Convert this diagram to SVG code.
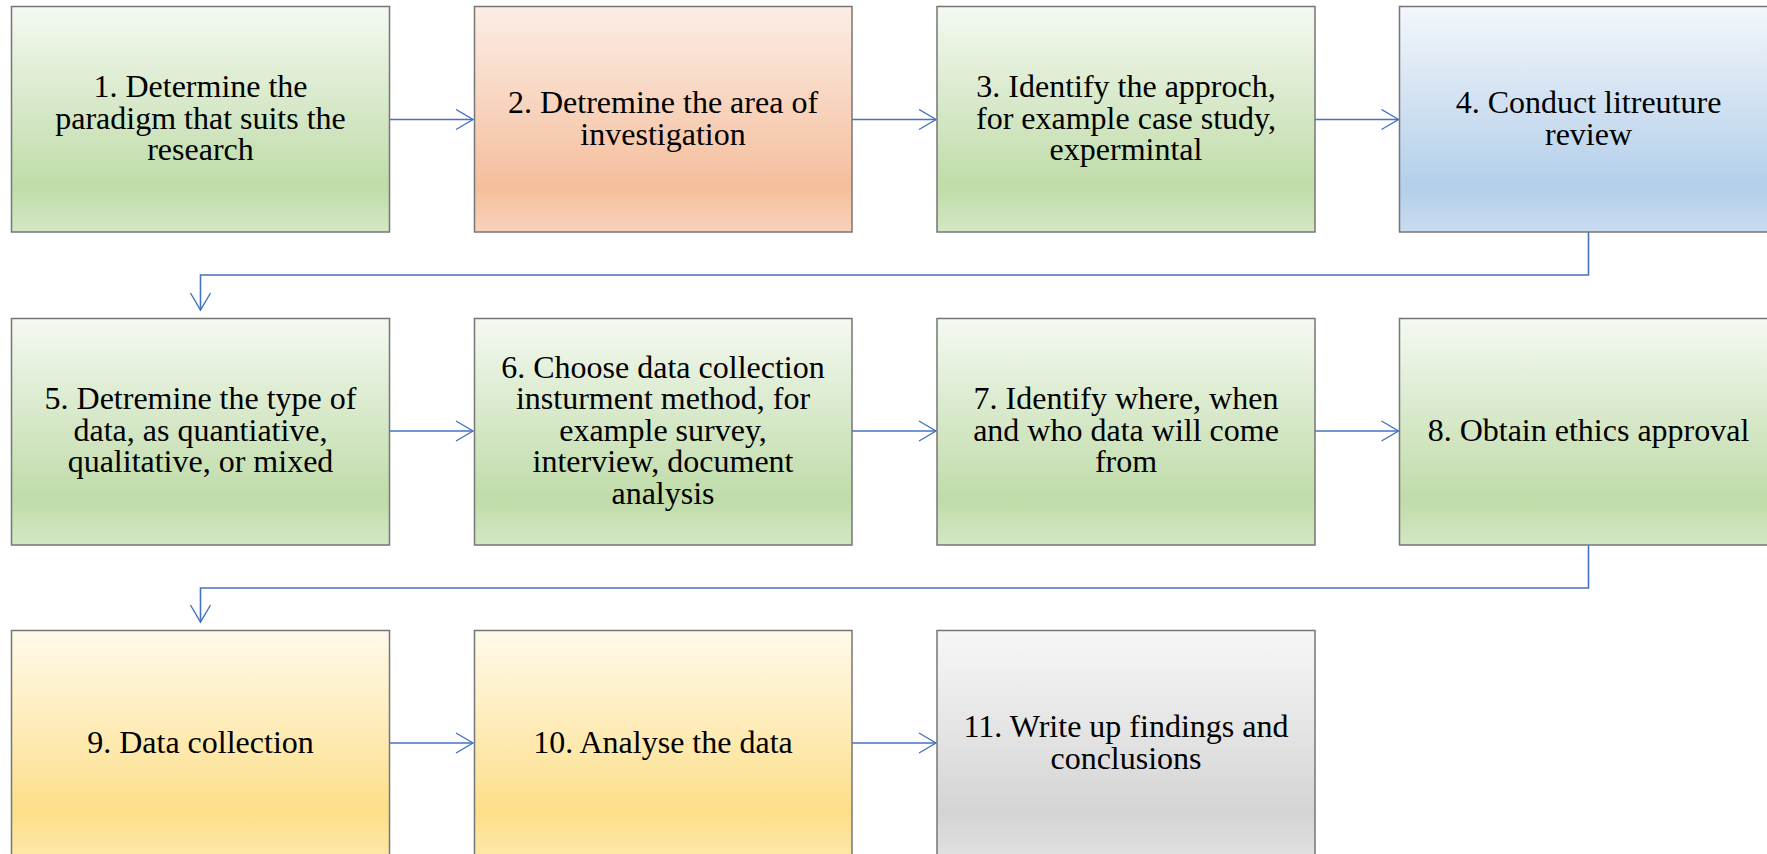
<svg xmlns="http://www.w3.org/2000/svg" width="1767" height="854" viewBox="0 0 1767 854">
<defs>
<linearGradient id="gGreen" x1="0" y1="0" x2="0" y2="1">
<stop offset="0" stop-color="#f5f9f1"/><stop offset="0.45" stop-color="#d6e8c8"/><stop offset="0.8" stop-color="#c0dca9"/><stop offset="1" stop-color="#d3e7c4"/>
</linearGradient>
<linearGradient id="gOrange" x1="0" y1="0" x2="0" y2="1">
<stop offset="0" stop-color="#fcede5"/><stop offset="0.45" stop-color="#f8d3bd"/><stop offset="0.8" stop-color="#f5be9c"/><stop offset="1" stop-color="#f8d2bb"/>
</linearGradient>
<linearGradient id="gBlue" x1="0" y1="0" x2="0" y2="1">
<stop offset="0" stop-color="#f3f7fc"/><stop offset="0.45" stop-color="#cfe0f1"/><stop offset="0.8" stop-color="#b3cfea"/><stop offset="1" stop-color="#c9dcf0"/>
</linearGradient>
<linearGradient id="gYellow" x1="0" y1="0" x2="0" y2="1">
<stop offset="0" stop-color="#fffaea"/><stop offset="0.45" stop-color="#feebb5"/><stop offset="0.8" stop-color="#fddf89"/><stop offset="1" stop-color="#fee8a8"/>
</linearGradient>
<linearGradient id="gGray" x1="0" y1="0" x2="0" y2="1">
<stop offset="0" stop-color="#f7f7f7"/><stop offset="0.45" stop-color="#e4e4e4"/><stop offset="0.8" stop-color="#d4d4d4"/><stop offset="1" stop-color="#e0e0e0"/>
</linearGradient>
<marker id="arr" viewBox="0 0 20 22" refX="18" refY="11" markerWidth="20" markerHeight="22" markerUnits="userSpaceOnUse" orient="auto">
<path d="M1,1 L18,11 L1,21" fill="none" stroke="#4472c4" stroke-width="1.4"/>
</marker>
</defs>
<style>
.box{stroke:#767676;stroke-width:1.5}
.t{font-family:"Liberation Serif","Times New Roman",serif;font-size:32px;fill:#000;text-anchor:middle}
.c{fill:none;stroke:#4472c4;stroke-width:1.6}
</style>
<rect width="1767" height="854" fill="#ffffff"/>
<g id="connectors">
<path class="c" d="M389.5,119.5 H473" marker-end="url(#arr)"/>
<path class="c" d="M852,119.5 H936" marker-end="url(#arr)"/>
<path class="c" d="M1315,119.5 H1398.5" marker-end="url(#arr)"/>
<path class="c" d="M1588.5,232 V275 H200.5 V310" marker-end="url(#arr)"/>
<path class="c" d="M389.5,431 H473" marker-end="url(#arr)"/>
<path class="c" d="M852,431 H936" marker-end="url(#arr)"/>
<path class="c" d="M1315,431 H1398.5" marker-end="url(#arr)"/>
<path class="c" d="M1588.5,545 V588 H200.5 V622" marker-end="url(#arr)"/>
<path class="c" d="M389.5,743 H473" marker-end="url(#arr)"/>
<path class="c" d="M852,743 H936" marker-end="url(#arr)"/>
</g>
<g id="n1"><rect class="box" x="11.5" y="6.5" width="378" height="225.5" fill="url(#gGreen)"/>
<text class="t" x="200.5" y="97">1. Determine the</text><text class="t" x="200.5" y="128.5">paradigm that suits the</text><text class="t" x="200.5" y="160">research</text></g>
<g id="n2"><rect class="box" x="474.5" y="6.5" width="377.5" height="225.5" fill="url(#gOrange)"/>
<text class="t" x="663" y="113">2. Detremine the area of</text><text class="t" x="663" y="144.5">investigation</text></g>
<g id="n3"><rect class="box" x="937" y="6.5" width="378" height="225.5" fill="url(#gGreen)"/>
<text class="t" x="1126" y="97">3. Identify the approch,</text><text class="t" x="1126" y="128.5">for example case study,</text><text class="t" x="1126" y="160">expermintal</text></g>
<g id="n4"><rect class="box" x="1399.5" y="6.5" width="378" height="225.5" fill="url(#gBlue)"/>
<text class="t" x="1588.5" y="113">4. Conduct litreuture</text><text class="t" x="1588.5" y="144.5">review</text></g>
<g id="n5"><rect class="box" x="11.5" y="318.5" width="378" height="226.5" fill="url(#gGreen)"/>
<text class="t" x="200.5" y="409">5. Detremine the type of</text><text class="t" x="200.5" y="440.5">data, as quantiative,</text><text class="t" x="200.5" y="472">qualitative, or mixed</text></g>
<g id="n6"><rect class="box" x="474.5" y="318.5" width="377.5" height="226.5" fill="url(#gGreen)"/>
<text class="t" x="663" y="377.5">6. Choose data collection</text><text class="t" x="663" y="409">insturment method, for</text><text class="t" x="663" y="440.5">example survey,</text><text class="t" x="663" y="472">interview, document</text><text class="t" x="663" y="503.5">analysis</text></g>
<g id="n7"><rect class="box" x="937" y="318.5" width="378" height="226.5" fill="url(#gGreen)"/>
<text class="t" x="1126" y="409">7. Identify where, when</text><text class="t" x="1126" y="440.5">and who data will come</text><text class="t" x="1126" y="472">from</text></g>
<g id="n8"><rect class="box" x="1399.5" y="318.5" width="378" height="226.5" fill="url(#gGreen)"/>
<text class="t" x="1588.5" y="440.5">8. Obtain ethics approval</text></g>
<g id="n9"><rect class="box" x="11.5" y="630.5" width="378" height="226.5" fill="url(#gYellow)"/>
<text class="t" x="200.5" y="752.5">9. Data collection</text></g>
<g id="n10"><rect class="box" x="474.5" y="630.5" width="377.5" height="226.5" fill="url(#gYellow)"/>
<text class="t" x="663" y="752.5">10. Analyse the data</text></g>
<g id="n11"><rect class="box" x="937" y="630.5" width="378" height="226.5" fill="url(#gGray)"/>
<text class="t" x="1126" y="737">11. Write up findings and</text><text class="t" x="1126" y="768.5">conclusions</text></g>
</svg>
